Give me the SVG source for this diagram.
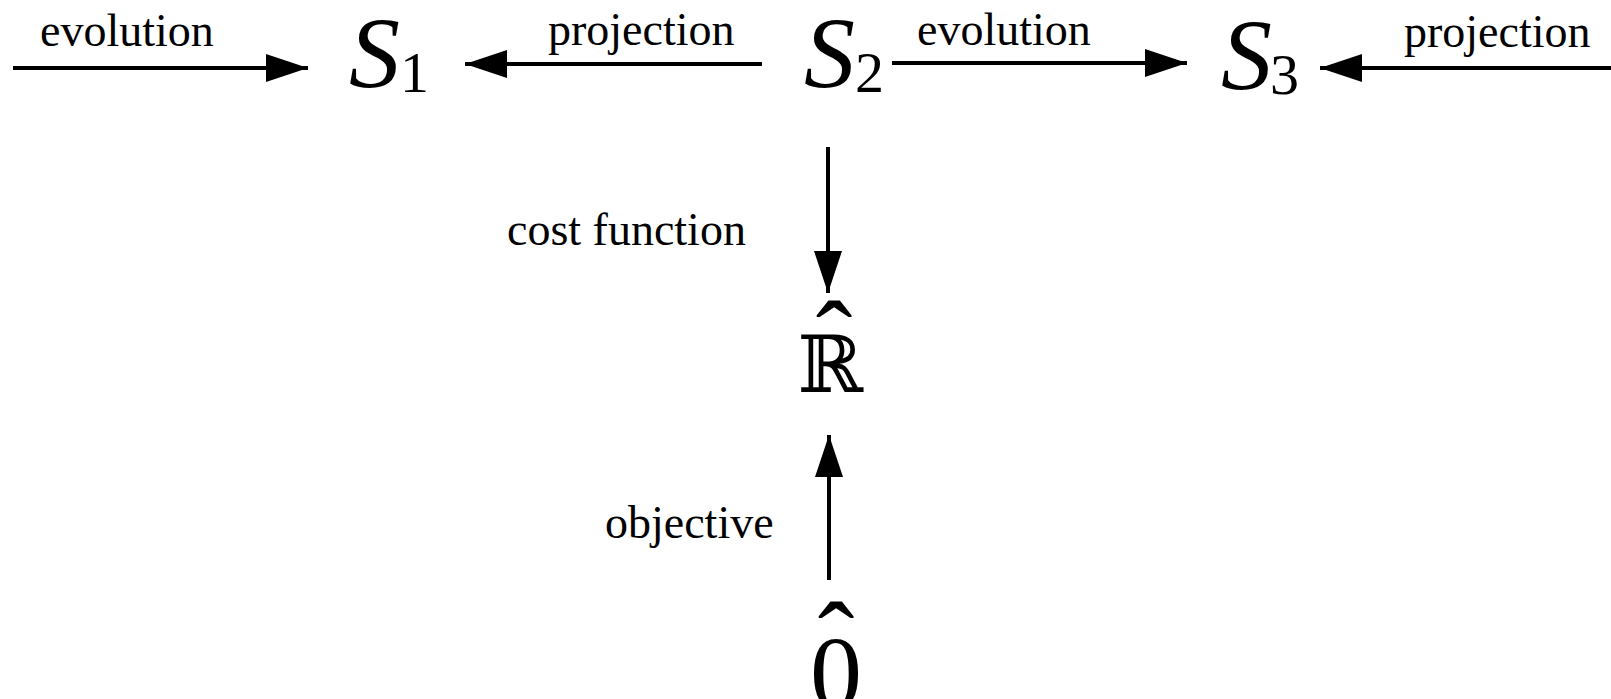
<svg xmlns="http://www.w3.org/2000/svg" width="1611" height="699" viewBox="0 0 1611 699">
<defs>
<style>
.lbl{font-family:"Liberation Serif","Times New Roman",serif;font-size:46px;fill:#000}
.S{font-family:"Liberation Serif","Times New Roman",serif;font-style:italic;font-size:102px;fill:#000}
.sub{font-family:"Liberation Serif","Times New Roman",serif;font-size:58px;fill:#000}
.big{font-family:"Liberation Serif","Times New Roman",serif;font-size:104px;fill:#000}
.bb{font-family:"DejaVu Serif","DejaVu Sans",serif;font-size:79px;fill:#000}
.hat{font-family:"Liberation Serif","Times New Roman",serif;font-size:110px;fill:#000}
.edge{stroke:#000;stroke-width:4;fill:none;marker-end:url(#ah)}
</style>
<marker id="ah" markerUnits="userSpaceOnUse" markerWidth="44" markerHeight="30" refX="42" refY="14" orient="auto">
<path d="M0,0 L42,14 L0,28 Z" fill="#000"/>
</marker>
</defs>
<g id="connectors">
<line class="edge" x1="13" y1="68" x2="308" y2="68"/>
<line class="edge" x1="762" y1="64" x2="465" y2="64"/>
<line class="edge" x1="892" y1="63" x2="1187" y2="63"/>
<line class="edge" x1="1611" y1="68" x2="1320" y2="68"/>
<line class="edge" x1="828" y1="147" x2="828" y2="293"/>
<line class="edge" x1="829" y1="580" x2="829" y2="435"/>
</g>
<g id="labels">
<text class="lbl" x="40" y="46">evolution</text>
<text class="lbl" x="548" y="45">projection</text>
<text class="lbl" x="917" y="45">evolution</text>
<text class="lbl" x="1404" y="47">projection</text>
<text class="lbl" x="507" y="245">cost function</text>
<text class="lbl" x="605" y="538">objective</text>
</g>
<g id="S1"><text class="S" x="349" y="88">S</text><text class="sub" x="400" y="92">1</text></g>
<g id="S2"><text class="S" x="804" y="88">S</text><text class="sub" x="855" y="92">2</text></g>
<g id="S3"><text class="S" x="1221" y="90">S</text><text class="sub" x="1270" y="94">3</text></g>
<g id="Rhat"><text class="hat" x="834" y="377" text-anchor="middle">ˆ</text><text class="bb" x="830" y="392" text-anchor="middle">ℝ</text></g>
<g id="Zhat"><text class="hat" x="836" y="678" text-anchor="middle">ˆ</text><text class="big" x="836" y="708" text-anchor="middle">0</text></g>
</svg>
